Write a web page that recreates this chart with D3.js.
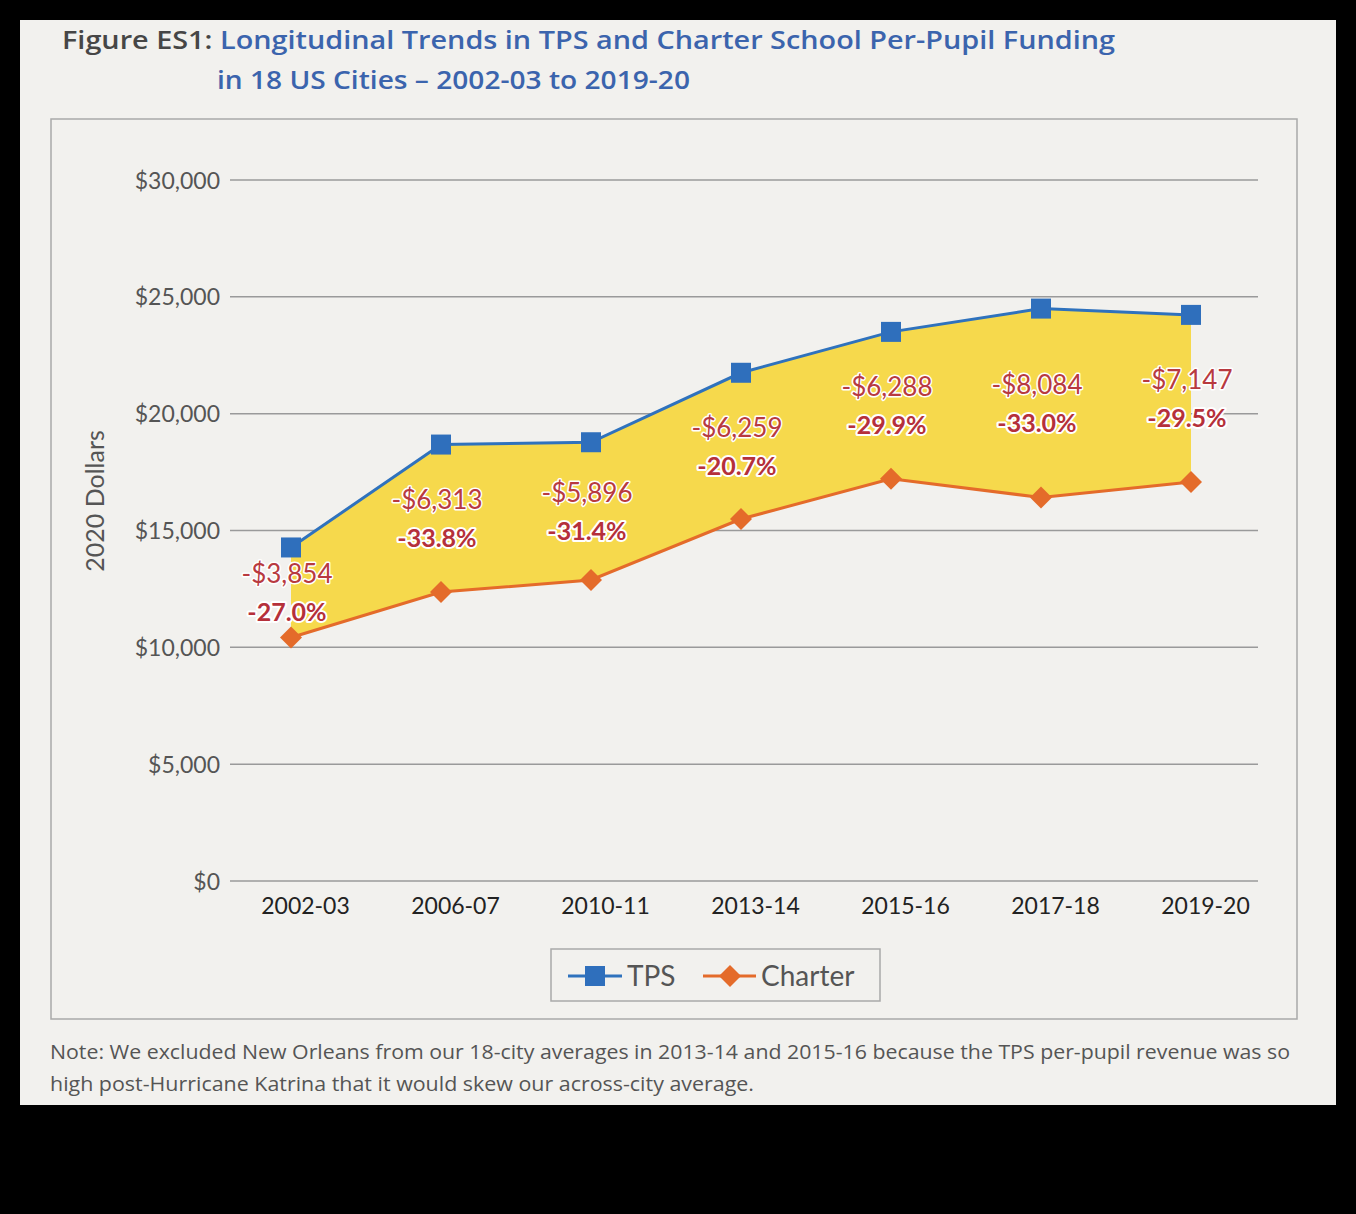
<!DOCTYPE html>
<html><head><meta charset="utf-8">
<script src="https://cdn.jsdelivr.net/npm/d3@7"></script>
<style>
html,body{margin:0;padding:0;background:#000;}
svg{display:block;}
</style></head>
<body>
<script>
const years = ["2002-03","2006-07","2010-11","2013-14","2015-16","2017-18","2019-20"];
const tps = [14274, 18678, 18777, 21750, 23500, 24497, 24227];
const charter = [10420, 12365, 12881, 15491, 17212, 16413, 17080];
const gapLabels = ["-$3,854","-$6,313","-$5,896","-$6,259","-$6,288","-$8,084","-$7,147"];
const pctLabels = ["-27.0%","-33.8%","-31.4%","-20.7%","-29.9%","-33.0%","-29.5%"];
const yTicks = [0,5000,10000,15000,20000,25000,30000];
const seriesNames = ["TPS","Charter"];

const W=1356,H=1214;
const svg=d3.select("body").append("svg").attr("width",W).attr("height",H);
svg.append("rect").attr("width",W).attr("height",H).attr("fill","#000");
svg.append("rect").attr("x",20).attr("y",20).attr("width",1316).attr("height",1085).attr("fill","#f2f1ee");

// title
const t1=svg.append("text").attr("x",62).attr("y",49).attr("font-family","'Open Sans',sans-serif").attr("font-weight",600).attr("font-size",25);
t1.append("tspan").attr("fill","#464646").text("Figure ES1: ");
t1.append("tspan").attr("fill","#3b64ad").text("Longitudinal Trends in TPS and Charter School Per-Pupil Funding");
t1.attr("textLength",1053).attr("lengthAdjust","spacingAndGlyphs");
svg.append("text").attr("x",217).attr("y",89).attr("font-family","'Open Sans',sans-serif").attr("font-weight",600).attr("font-size",25)
  .attr("fill","#3b64ad").text("in 18 US Cities – 2002-03 to 2019-20").attr("textLength",473).attr("lengthAdjust","spacingAndGlyphs");

// chart box
svg.append("rect").attr("x",51).attr("y",119).attr("width",1246).attr("height",900).attr("fill","none").attr("stroke","#a9a9a9").attr("stroke-width",1.5);

const y=d3.scaleLinear().domain([0,30000]).range([881,180]);
const x=d3.scalePoint().domain(years).range([291,1191]);
const xl=d3.scalePoint().domain(years).range([305,1205]);
const font="Lato, 'Open Sans', sans-serif";

// gridlines
svg.append("g").selectAll("line").data(yTicks).join("line")
  .attr("x1",230).attr("x2",1258).attr("y1",d=>y(d)).attr("y2",d=>y(d))
  .attr("stroke","#9a9a9a").attr("stroke-width",1.5);

// y axis
const ya=svg.append("g").attr("transform","translate(220,0)")
  .call(d3.axisLeft(y).tickValues(yTicks).tickSize(0).tickPadding(0).tickFormat(d=>"$"+d3.format(",")(d)));
ya.select(".domain").remove();
ya.selectAll("text").attr("font-family",font).attr("font-size",23).attr("fill","#555").attr("dy","0.35em");

// x axis
const xa=svg.append("g").attr("transform","translate(0,898)")
  .call(d3.axisBottom(xl).tickSize(0).tickPadding(0));
xa.select(".domain").remove();
xa.selectAll("text").attr("font-family",font).attr("font-size",23).attr("fill","#222").attr("dy","0.71em");

// y title
svg.append("text").attr("transform","translate(104,501) rotate(-90)").attr("text-anchor","middle")
  .attr("font-family",font).attr("font-size",25).attr("fill","#555").text("2020 Dollars");

const data=years.map((d,i)=>({year:d,tps:tps[i],charter:charter[i],gap:gapLabels[i],pct:pctLabels[i]}));

// area
svg.append("path").datum(data).attr("fill","#f6d94c")
  .attr("d",d3.area().x(d=>x(d.year)).y0(d=>y(d.charter)).y1(d=>y(d.tps)));

// lines
const line=key=>d3.line().x(d=>x(d.year)).y(d=>y(d[key]));
svg.append("path").datum(data).attr("fill","none").attr("stroke","#2f72bd").attr("stroke-width",3).attr("d",line("tps"));
svg.append("path").datum(data).attr("fill","none").attr("stroke","#e46b2a").attr("stroke-width",3).attr("d",line("charter"));

// markers
svg.append("g").selectAll("rect").data(data).join("rect")
  .attr("x",d=>x(d.year)-10).attr("y",d=>y(d.tps)-10).attr("width",20).attr("height",20).attr("fill","#2f6fbc");
svg.append("g").selectAll("path").data(data).join("path")
  .attr("transform",d=>`translate(${x(d.year)},${y(d.charter)})`)
  .attr("d","M0,-11L11,0L0,11L-11,0Z").attr("fill","#e46b2a");

// labels
const lg=svg.append("g").attr("font-family",font).attr("text-anchor","middle")
  .attr("paint-order","stroke").attr("stroke","#fff").attr("stroke-linejoin","round");
lg.selectAll("text.gap").data(data).join("text").attr("class","gap")
  .attr("x",d=>x(d.year)-4).attr("y",d=>(y(d.tps)+y(d.charter))/2-9)
  .attr("font-size",26).attr("fill","#b83a3f").attr("stroke-width",3).text(d=>d.gap);
lg.selectAll("text.pct").data(data).join("text").attr("class","pct")
  .attr("x",d=>x(d.year)-4).attr("y",d=>(y(d.tps)+y(d.charter))/2+29)
  .attr("font-size",25).attr("font-weight",700).attr("fill","#b5303a").attr("stroke-width",4).text(d=>d.pct);

// legend
svg.append("rect").attr("x",551).attr("y",949).attr("width",329).attr("height",52).attr("fill","none").attr("stroke","#a9a9a9").attr("stroke-width",1.5);
const leg=svg.append("g");
leg.append("line").attr("x1",568).attr("x2",622).attr("y1",976).attr("y2",976).attr("stroke","#2f72bd").attr("stroke-width",3);
leg.append("rect").attr("x",585).attr("y",966).attr("width",20).attr("height",20).attr("fill","#2f6fbc");
leg.append("text").attr("x",627).attr("y",986).attr("font-family",font).attr("font-size",28).attr("fill","#555").text(seriesNames[0]);
leg.append("line").attr("x1",703).attr("x2",756).attr("y1",976).attr("y2",976).attr("stroke","#e46b2a").attr("stroke-width",3);
leg.append("path").attr("transform","translate(730,976)").attr("d","M0,-11L11,0L0,11L-11,0Z").attr("fill","#e46b2a");
leg.append("text").attr("x",761).attr("y",986).attr("font-family",font).attr("font-size",28).attr("fill","#555").text(seriesNames[1]);

// note
svg.append("text").attr("x",50).attr("y",1059).attr("font-family","'Open Sans',sans-serif").attr("font-size",20).attr("fill","#555")
  .text("Note: We excluded New Orleans from our 18-city averages in 2013-14 and 2015-16 because the TPS per-pupil revenue was so")
  .attr("textLength",1240).attr("lengthAdjust","spacingAndGlyphs");
svg.append("text").attr("x",50).attr("y",1091).attr("font-family","'Open Sans',sans-serif").attr("font-size",20).attr("fill","#555")
  .text("high post-Hurricane Katrina that it would skew our across-city average.")
  .attr("textLength",704).attr("lengthAdjust","spacingAndGlyphs");
</script>
</body></html>
